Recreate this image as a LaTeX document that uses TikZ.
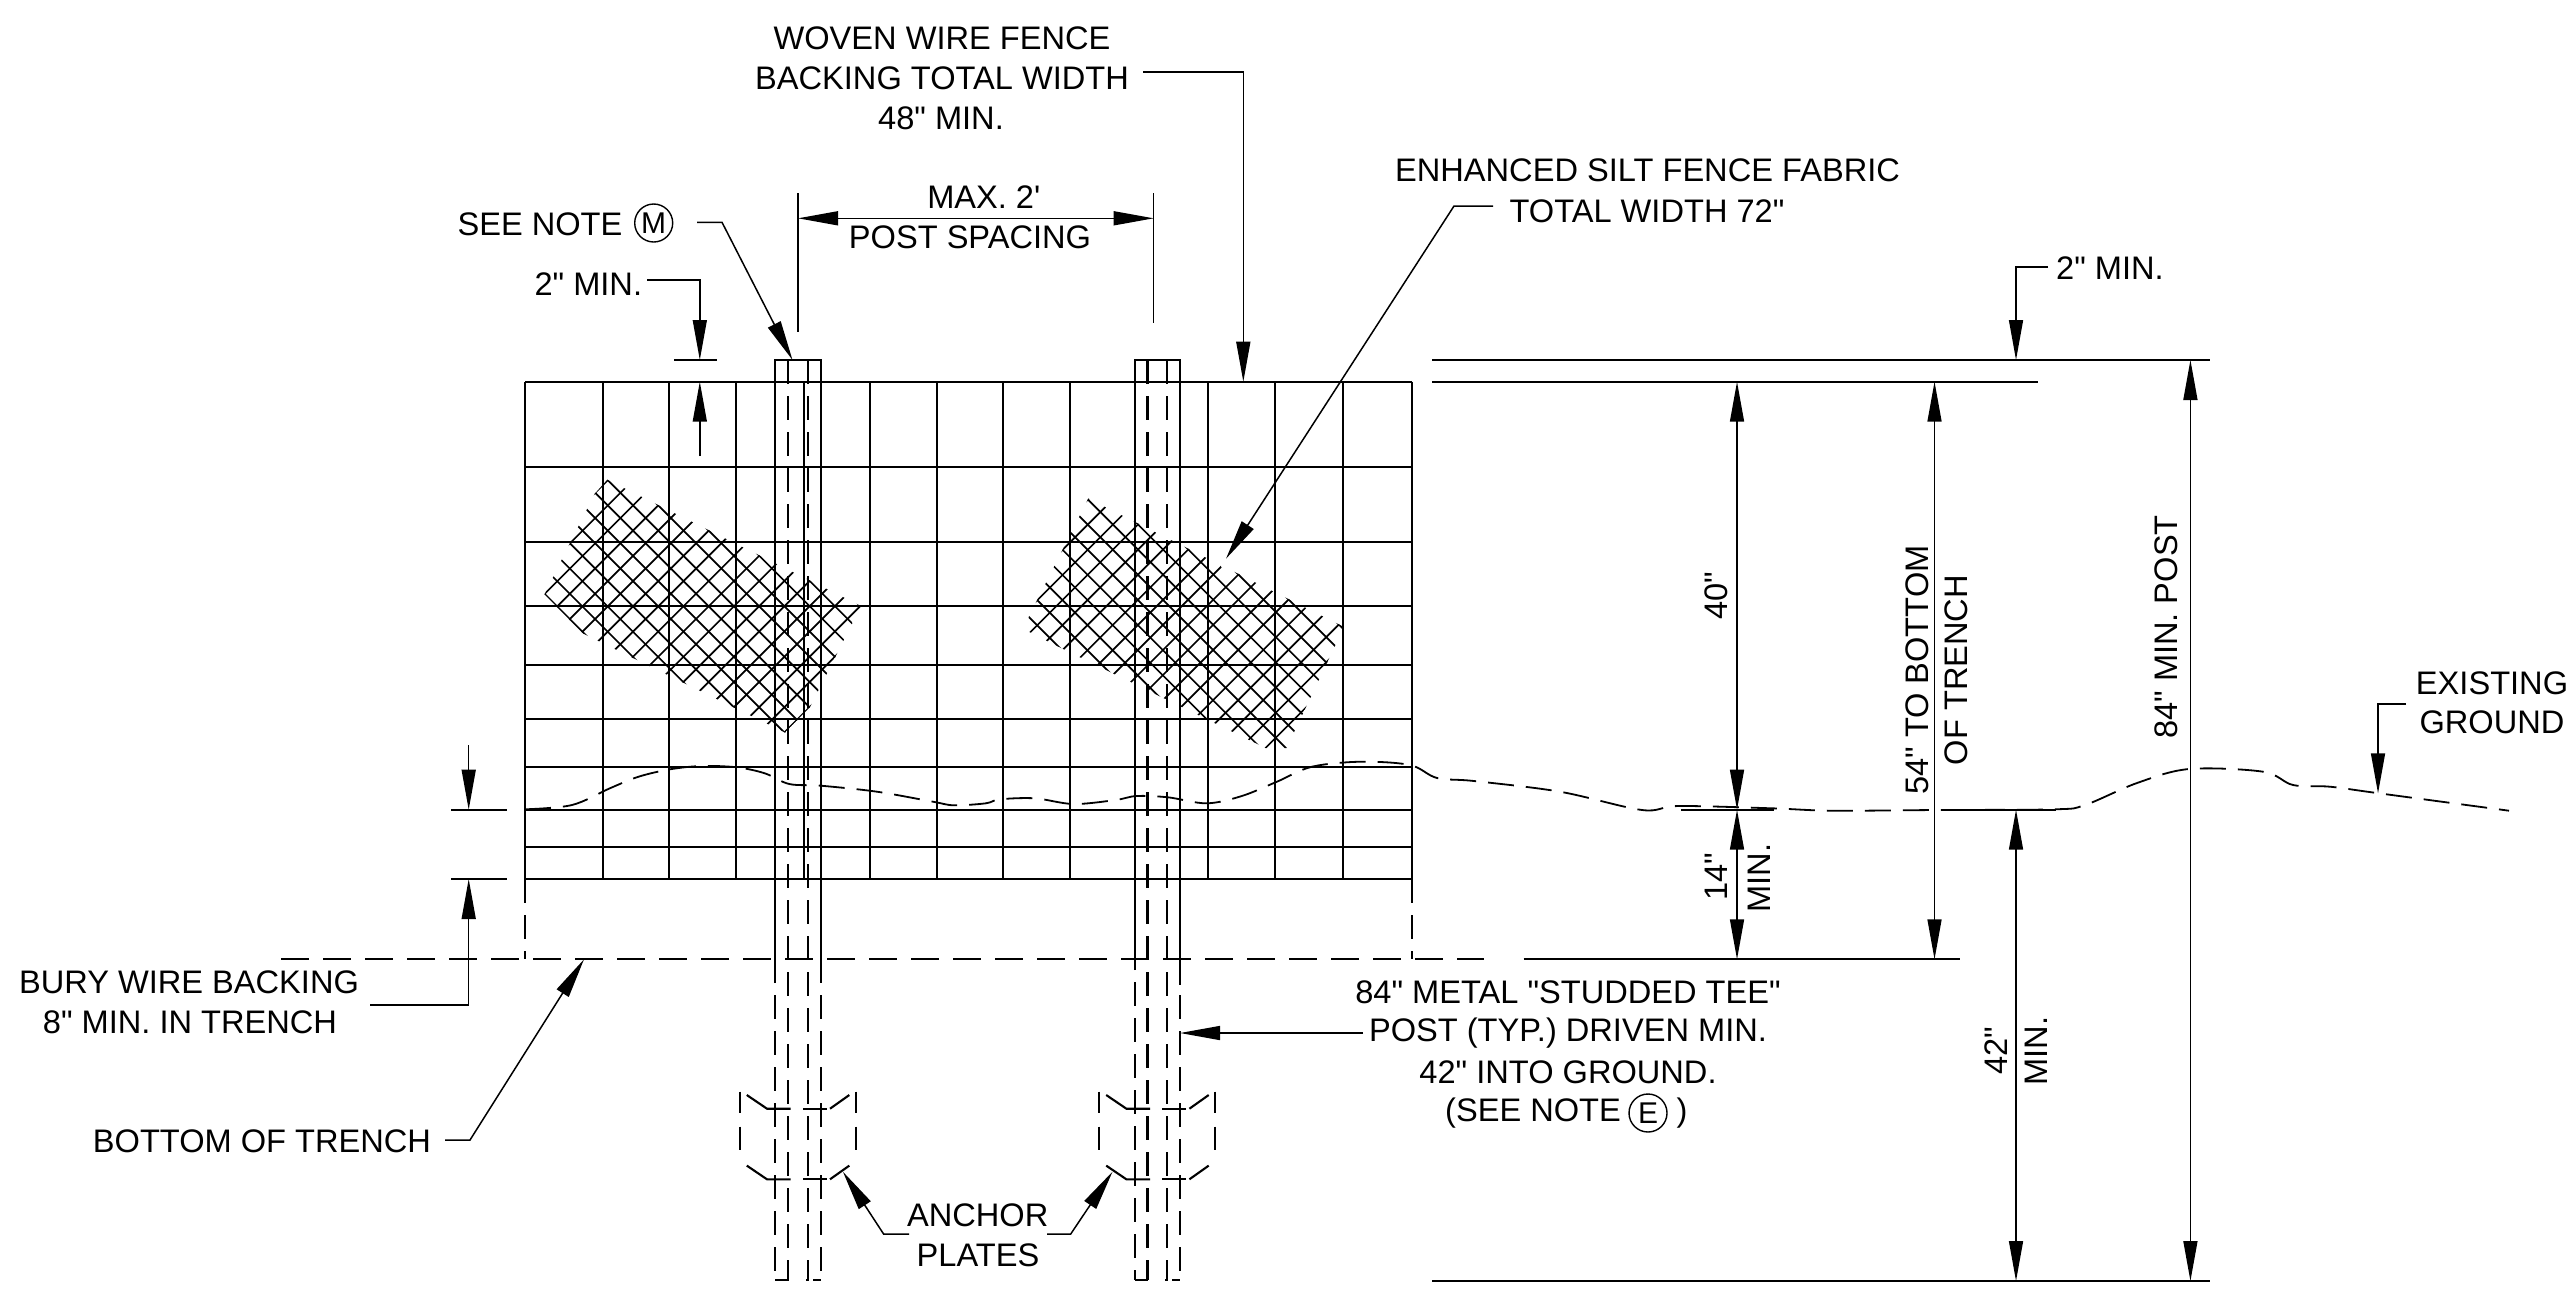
\documentclass[tikz,border=0pt]{standalone}
\usepackage{fontspec}
\newfontfamily\lib{Liberation Sans}
\usetikzlibrary{arrows.meta}
\tikzset{
  >={Triangle[length=20pt,width=7pt]},
  txt/.style={inner sep=0pt,align=center,font=\lib\fontsize{16.3}{20}\selectfont},
  ring/.style={draw,circle,line width=.7pt,inner sep=0pt,minimum size=19pt,font=\lib\fontsize{15}{18}\selectfont},
  gridline/.style={line width=1pt},
  leader/.style={line width=.75pt},
  hatchline/.style={line width=.85pt},
  edge/.style={line width=1.05pt},
  dashedge/.style={line width=1.05pt,dash pattern=on 11.8pt off 6.2pt},
  ground/.style={line width=.9pt,dash pattern=on 13pt off 6pt},
  trench/.style={line width=1pt,dash pattern=on 14pt off 7pt},
  solidref/.style={line width=1pt},
}
\begin{document}
\begin{tikzpicture}[x=0.5pt,y=-0.5pt]
\useasboundingbox (0,0) rectangle (2567,1291);
% ---- hatch (fabric)
\begin{scope}
\clip (607.3,479.7) -- (861,606) -- (810,707) -- (785,732.5) -- (583,633.5) -- (544.5,594.3) -- (594.5,494) -- cycle;
\foreach \i in {0,...,12}{\pgfmathsetmacro\cc{-254+25.27*\i}
  \draw[hatchline] (500,500+\cc) -- (900,900+\cc);}
\foreach \i in {0,...,17}{\pgfmathsetmacro\dd{1088+25.22*\i}
  \draw[hatchline] (500,\dd-500) -- (900,\dd-900);}
\end{scope}
\begin{scope}
\clip (1088.3,498.5) -- (1344,627) -- (1286.5,748) -- (1265.5,748) -- (1058,646.5) -- (1028.5,631.5) -- (1028.5,617.3) -- cycle;
\foreach \i in {0,...,12}{\pgfmathsetmacro\cc{-714.3+25.2*\i}
  \draw[hatchline] (1000,1000+\cc) -- (1400,1400+\cc);}
\foreach \i in {0,...,17}{\pgfmathsetmacro\dd{1587.3+25.07*\i}
  \draw[hatchline] (1000,\dd-1000) -- (1400,\dd-1400);}
\end{scope}
\fill[white] (1226.7,564.3) circle (6);
% ---- wire backing grid
\foreach \y in {381.7,467,542,606.3,665,718.7,766.7,809.7,847,879}
  \draw[gridline] (525,\y) -- (1412,\y);
\foreach \x in {525,602.7,669.3,736,804,870,936.7,1003,1069.7,1208.3,1275,1343.3,1412}
  \draw[gridline] (\x,381.7) -- (\x,879);
\foreach \x in {525,1412}
  \draw[dashedge,dash pattern=on 12pt off 6pt] (\x,879) -- (\x,959.3);
% ---- posts
\draw[edge] (775.3,983) -- (775.3,360) -- (820.7,360) -- (820.7,983);
\draw[edge] (1134.8,970) -- (1134.8,360) -- (1180,360) -- (1180,985);
\foreach \x in {775.3,820.7} \draw[dashedge] (\x,995) -- (\x,1280);
\draw[dashedge] (1134.8,982) -- (1134.8,1280);
\draw[dashedge] (1180,995) -- (1180,1280);
\foreach \x in {788,808,1147.5,1167} \draw[dashedge] (\x,360) -- (\x,1280);
\draw[line width=1pt] (775.3,1280) -- (789,1280) (806,1280) -- (809,1280) (813,1280) -- (820.7,1280);
\draw[line width=1pt] (1134.8,1280) -- (1148,1280) (1165,1280) -- (1168,1280) (1172,1280) -- (1180,1280);
% ---- anchor plates
\foreach \s in {0,359.4}{
  \begin{scope}[xshift=\s*0.5pt]
  \foreach \x in {739.6,856}{
    \draw[edge] (\x,1091.7) -- (\x,1113);
    \draw[edge] (\x,1126.7) -- (\x,1150);}
  \foreach \d in {0,70.6}{
    \draw[edge] (746.8,1095+\d) -- (767,1108.7+\d) -- (790.7,1108.7+\d);
    \draw[edge] (803,1108.7+\d) -- (826.8,1108.7+\d);
    \draw[edge] (830,1108.7+\d) -- (849.3,1095+\d);}
  \end{scope}}
% ---- ground and trench
\draw[ground] plot[smooth,tension=.55] coordinates {(525,809.3)(572,805)(610.5,788)(638.5,776.7)(670,769.3)(701.7,766)(736.7,767.3)(764.8,773.3)(789.3,784)(821,785.7)(877,791.7)(933,801.7)(954,805.3)(985.8,803.3)(999.8,799.3)(1034.9,798.3)(1073.4,804)(1115.5,800)(1136.6,796)(1168,797.3)(1206.7,803.3)(1241.8,796)(1276.9,781.7)(1312,766.7)(1361,761.7)(1410,765)(1437,778)(1474,781)(1560,791.7)(1642,810)(1679,806)(1772,808.3)(1832,810.7)(1936,810)(2055,809.3)(2085,805)(2137,783)(2189,769)(2263,771.7)(2293,785)(2330,786.7)(2379,793.3)(2509,810.7)};
\draw[trench] (281,959.3) -- (1484,959.3);
\draw[solidref] (1523.5,959.3) -- (1959.7,959.3);
\draw[solidref] (1432,360) -- (2210,360);
\draw[solidref] (1432,381.7) -- (2038,381.7);
\draw[solidref] (1432,1281) -- (2210,1281);
\draw[solidref] (1681,809.7) -- (1774,809.7);
\draw[solidref] (1959.7,809.7) -- (2056.4,809.7);
\draw[solidref] (451,809.7) -- (507,809.7);
\draw[solidref] (451,879) -- (507,879);
\draw[solidref] (674,360) -- (717.3,360);
% ---- labels
\node[txt] (woven) at (942,38) {WOVEN WIRE FENCE};
\node[txt] (backing) at (942,78.5) {BACKING TOTAL WIDTH};
\node[txt] (min48) at (941,118) {48" MIN.};
\node[txt] (max2) at (983.8,197.5) {MAX. 2'};
\node[txt] (postsp) at (970,237.5) {POST SPACING};
\node[txt] (seenote) at (540,224) {SEE NOTE};
\node[ring] (noteM) at (653.7,223) {M};
\node[txt] (twoL) at (588.3,284) {2" MIN.};
\node[txt] (enh1) at (1647.5,170) {ENHANCED SILT FENCE FABRIC};
\node[txt] (enh2) at (1647,211) {TOTAL WIDTH 72"};
\node[txt] (twoR) at (2110,268) {2" MIN.};
\node[txt] (exist) at (2492,683) {EXISTING};
\node[txt] (groundt) at (2492,722) {GROUND};
\node[txt] (bury1) at (189,982) {BURY WIRE BACKING};
\node[txt] (bury2) at (190,1022) {8" MIN. IN TRENCH};
\node[txt] (bott) at (262,1141) {BOTTOM OF TRENCH};
\node[txt] (st1) at (1568,992) {84" METAL "STUDDED TEE"};
\node[txt] (st2) at (1568,1033) {POST (TYP.) DRIVEN MIN.};
\node[txt] (st3) at (1568,1072) {42" INTO GROUND.};
\node[txt] (st4) at (1533,1113) {(SEE NOTE};
\node[ring] (noteE) at (1648,1113) {E};
\node[txt] (st5) at (1682,1113) {)};
\node[txt] (anch) at (977.7,1215.7) {ANCHOR};
\node[txt] (plates) at (978,1255.7) {PLATES};
\node[txt,rotate=90] (d40) at (1716,596) {40"};
\node[txt,rotate=90] (d14) at (1716,877) {14"};
\node[txt,rotate=90] (d14m) at (1759.5,878) {MIN.};
\node[txt,rotate=90] (d54) at (1917,670) {54" TO BOTTOM};
\node[txt,rotate=90] (d54b) at (1956,670) {OF TRENCH};
\node[txt,rotate=90] (d84) at (2166,627) {84" MIN. POST};
\node[txt,rotate=90] (d42) at (1996,1051) {42"};
\node[txt,rotate=90] (d42m) at (2036,1051) {MIN.};
% ---- named ends
\coordinate (sp1) at (798,218.3); \coordinate (sp2) at (1153.7,218.3);
\coordinate (noteTip) at (792.5,360);
\coordinate (wireTop) at (1243.3,381.7);
\coordinate (fabTip) at (1226,558.7);
\coordinate (topPost) at (2016,360);
\coordinate (exTip) at (2378,793.3);
\coordinate (trenchTip) at (584,959.3);
\coordinate (postTip) at (1180,1033);
\coordinate (plateL) at (842.9,1171.7);
\coordinate (plateR) at (1112.5,1171.7);
\coordinate (t40) at (1737,381.7); \coordinate (g40) at (1737,809.7); \coordinate (b14) at (1737,959.3);
\coordinate (t54) at (1934.5,381.7); \coordinate (b54) at (1934.5,959.3);
\coordinate (g42) at (2016,809.7); \coordinate (b42) at (2016,1281);
\coordinate (t84) at (2190.4,360); \coordinate (b84) at (2190.4,1281);
% ---- leaders
\draw[leader,->] (1143,72) -- (1243.3,72) -- (wireTop);
\draw[leader,<->] (sp1) -- (sp2);
\draw[leader] (798,193) -- (798,331.7);
\draw[leader] (1153.7,193) -- (1153.7,323);
\draw[leader,->] (697,222.3) -- (722,222.3) -- (noteTip);
\draw[leader,->] (647,280) -- (699.8,280) -- (699.8,360);
\draw[leader,->] (699.8,456) -- (699.8,381.7);
\draw[leader,->] (1493,206) -- (1454,206) -- (fabTip);
\draw[leader,->] (2048,267) -- (2016,267) -- (topPost);
\draw[leader,->] (2406,704) -- (2378,704) -- (exTip);
\draw[leader,->] (468.7,745) -- (468.7,809.7);
\draw[leader,->] (370,1005) -- (468.7,1005) -- (468.7,879);
\draw[leader,->] (445,1140) -- (470,1140) -- (trenchTip);
\draw[leader,->] (1363,1033) -- (postTip);
\draw[leader,->] (909,1234) -- (883.6,1234) -- (plateL);
\draw[leader,->] (1047,1234) -- (1070.7,1234) -- (plateR);
\draw[leader,<->] (t40) -- (g40);
\draw[leader,<->] (g40) -- (b14);
\draw[leader,<->] (t54) -- (b54);
\draw[leader,<->] (g42) -- (b42);
\draw[leader,<->] (t84) -- (b84);
\end{tikzpicture}
\end{document}
